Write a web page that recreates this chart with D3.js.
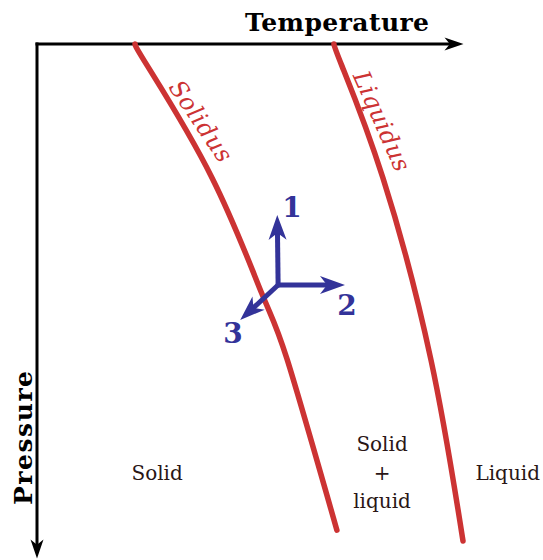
<!DOCTYPE html>
<html>
<head>
<meta charset="utf-8">
<script src="https://cdn.jsdelivr.net/npm/d3@7"></script>
<style>
  body { margin: 0; background: #fff; }
  svg { display: block; }
</style>
</head>
<body>
<div id="wrapper"></div>
<script>
// curve readings (temperature, pressure in 0..100 units)
const solidusT = [23.0, 26.1, 41.1, 52.8, 58.7, 70.4]
const solidusP = [0, 4.5, 26.0, 48.5, 61.2, 94.4]
const liquidusT = [69.7, 71.6, 81.2, 92.5, 100]
const liquidusP = [0, 4.3, 26.0, 61.4, 96.5]

// principal stress arrows: origin and tips
const arrowOrigin = [56.6, 46.8]
const arrowNames = ['1', '2', '3']
const arrowTipT = [56.4, 72.3, 47.7]
const arrowTipP = [33.2, 46.8, 53.6]

const regionNames = [['Solid'], ['Solid', '+', 'liquid'], ['Liquid']]
const regionT = [28.2, 81.0, 110.5]
const regionP = [83.3, 83.3, 83.3]

const dimensions = {
  width: 543,
  height: 560,
  margin: { top: 44, right: 80, bottom: 1, left: 37 }
}
dimensions.boundedWidth = dimensions.width - dimensions.margin.left - dimensions.margin.right
dimensions.boundedHeight = dimensions.height - dimensions.margin.top - dimensions.margin.bottom

const red = '#cc3333'
const blue = '#333399'

const svg = d3.select('#wrapper')
  .append('svg')
    .attr('width', dimensions.width)
    .attr('height', dimensions.height)

const xScale = d3.scaleLinear()
  .domain([0, 100])
  .range([dimensions.margin.left, dimensions.margin.left + 426])

const yScale = d3.scaleLinear()
  .domain([0, 100])
  .range([dimensions.margin.top, dimensions.margin.top + 515])

// arrow helper: line to base, stealth head at tip
function arrow(g, x1, y1, x2, y2, color, width, len, half) {
  const a = Math.atan2(y2 - y1, x2 - x1)
  const bx = x2 - Math.cos(a) * len * 0.7
  const by = y2 - Math.sin(a) * len * 0.7
  g.append('line')
    .attr('x1', x1).attr('y1', y1)
    .attr('x2', bx).attr('y2', by)
    .attr('stroke', color)
    .attr('stroke-width', width)
  g.append('path')
    .attr('d', `M0,0 L${-len},${-half} L${-len * 0.72},0 L${-len},${half} Z`)
    .attr('fill', color)
    .attr('transform', `translate(${x2},${y2}) rotate(${a * 180 / Math.PI})`)
}

// axes
const axes = svg.append('g')
arrow(axes, xScale(0) - 1.5, yScale(0), xScale(100) + 0.5, yScale(0), '#000', 3, 19, 6.5)
arrow(axes, xScale(0), yScale(0) - 1.5, xScale(0), yScale(100) - 0.5, '#000', 3, 19, 6.5)

svg.append('text')
  .attr('x', 245)
  .attr('y', 31)
  .attr('textLength', 184)
  .attr('font-family', 'DejaVu Serif')
  .attr('font-weight', 'bold')
  .attr('font-size', 25)
  .text('Temperature')

svg.append('text')
  .attr('transform', `translate(32, 438) rotate(-90)`)
  .attr('text-anchor', 'middle')
  .attr('textLength', 134)
  .attr('font-family', 'DejaVu Serif')
  .attr('font-weight', 'bold')
  .attr('font-size', 25)
  .text('Pressure')

// curves
const line = d3.line()
  .x(d => xScale(d[0]))
  .y(d => yScale(d[1]))
  .curve(d3.curveNatural)

const curves = [d3.zip(solidusT, solidusP), d3.zip(liquidusT, liquidusP)]
svg.selectAll('path.curve')
  .data(curves)
  .join('path')
    .attr('class', 'curve')
    .attr('d', line)
    .attr('fill', 'none')
    .attr('stroke', red)
    .attr('stroke-width', 5.5)
    .attr('stroke-linecap', 'round')

// curve labels
const curveLabels = [
  { name: 'Solidus', x: 201, y: 121, angle: 56, len: 93 },
  { name: 'Liquidus', x: 382, y: 121, angle: 66, len: 107 }
]
svg.selectAll('text.curveLabel')
  .data(curveLabels)
  .join('text')
    .attr('class', 'curveLabel')
    .attr('transform', d => `translate(${d.x},${d.y}) rotate(${d.angle})`)
    .attr('text-anchor', 'middle')
    .attr('dy', '0.35em')
    .attr('textLength', d => d.len)
    .attr('font-family', 'DejaVu Serif')
    .attr('font-style', 'italic')
    .attr('font-size', 24)
    .attr('fill', red)
    .text(d => d.name)

// stress arrows
const arrows = svg.append('g')
arrowNames.forEach((n, i) => {
  arrow(arrows, xScale(arrowOrigin[0]), yScale(arrowOrigin[1]),
    xScale(arrowTipT[i]), yScale(arrowTipP[i]), blue, 5, 25, 9)
})
arrows.append('circle')
  .attr('cx', xScale(arrowOrigin[0]))
  .attr('cy', yScale(arrowOrigin[1]))
  .attr('r', 2.5)
  .attr('fill', blue)

const numPos = [[292, 217], [347, 315], [233, 343]]
arrows.selectAll('text')
  .data(arrowNames)
  .join('text')
    .attr('x', (d, i) => numPos[i][0])
    .attr('y', (d, i) => numPos[i][1])
    .attr('text-anchor', 'middle')
    .attr('font-family', 'DejaVu Serif')
    .attr('font-weight', 'bold')
    .attr('font-size', 28)
    .attr('fill', blue)
    .text(d => d)

// region labels
regionNames.forEach((lines, i) => {
  const t = svg.append('text')
    .attr('text-anchor', 'middle')
    .attr('font-family', 'DejaVu Serif')
    .attr('font-size', 20)
    .attr('fill', '#2a1616')
  const n = lines.length
  lines.forEach((s, j) => {
    t.append('tspan')
      .attr('x', xScale(regionT[i]))
      .attr('y', yScale(regionP[i]) + (j - (n - 1) / 2) * 28.5)
      .attr('dy', '0.35em')
      .text(s)
  })
})
</script>
</body>
</html>
